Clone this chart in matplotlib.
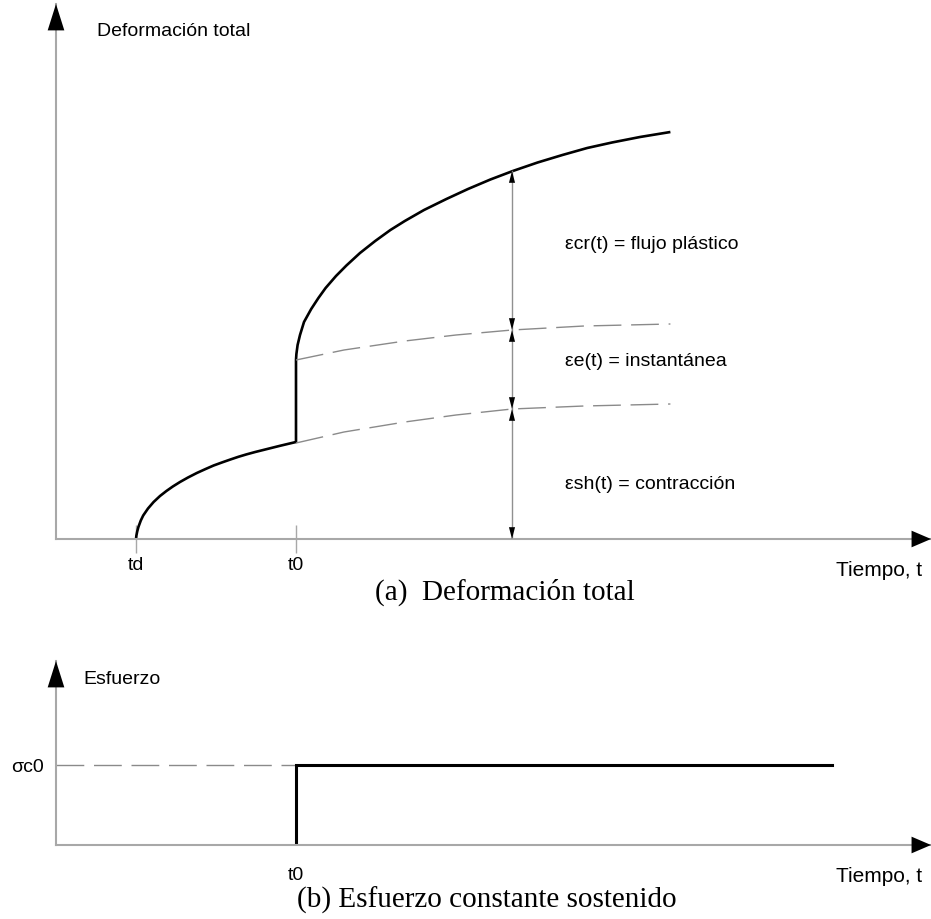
import numpy as np
import matplotlib
matplotlib.use("Agg")
import matplotlib.pyplot as plt

# tiempo en unidades arbitrarias, deformacion / esfuerzo en unidades arbitrarias
t_d = 1.0
t_0 = 3.0
t_dim = 5.7          # posicion de las cotas

# deformacion total antes de la carga (solo contraccion)
t_pre = [1.0, 1.005, 1.015, 1.03, 1.06, 1.09, 1.15, 1.22, 1.30, 1.38, 1.46, 1.55, 1.65,
         1.76, 1.87, 1.97, 2.08, 2.18, 2.28, 2.38, 2.49, 2.59, 2.70, 2.80, 2.90, 3.0]
eps_pre = [0.0, 0.035, 0.075, 0.12, 0.185, 0.235, 0.305, 0.37, 0.43, 0.48, 0.525, 0.57, 0.615,
           0.66, 0.70, 0.735, 0.767, 0.795, 0.822, 0.846, 0.87, 0.89, 0.912, 0.932, 0.951, 0.97]

# deformacion total despues de la carga
t_post = [3.0, 3.0, 3.005, 3.02, 3.05, 3.10, 3.19, 3.28, 3.37, 3.50, 3.63, 3.80, 3.99, 4.18,
          4.36, 4.60, 4.88, 5.15, 5.43, 5.71, 6.02, 6.33, 6.64, 6.95, 7.30, 7.68]
eps_post = [0.97, 1.79, 1.85, 1.94, 2.04, 2.17, 2.30, 2.41, 2.51, 2.63, 2.735, 2.86, 2.98, 3.09,
            3.18, 3.29, 3.40, 3.50, 3.595, 3.68, 3.765, 3.84, 3.91, 3.965, 4.02, 4.07]

# curvas de trazos: contraccion + instantanea, y contraccion
t_el = [3.0, 3.6, 4.36, 5.0, 5.7, 6.6, 7.68]
eps_el = [1.79, 1.89, 1.98, 2.04, 2.09, 2.13, 2.15]
t_sh = [3.0, 3.6, 4.36, 5.0, 5.7, 6.6, 7.68]
eps_sh = [0.96, 1.07, 1.17, 1.24, 1.30, 1.33, 1.35]

dim_levels = [0.0, 1.30, 2.09, 3.68]
dim_labels = ["εcr(t) = flujo plástico", "εe(t) = instantánea", "εsh(t) = contracción"]
dim_label_y = [2.95, 1.78, 0.55]

# esfuerzo
sigma_c0 = 0.8
t_end = 9.7

sans = "Liberation Sans"
serif = "Liberation Serif"
gray = "#a8a8a8"
fs = 14

fig = plt.figure(figsize=(9.31, 9.2), dpi=100)
W, H = 931.0, 920.0


def style_axes(ax):
    for s in ["top", "right"]:
        ax.spines[s].set_visible(False)
    for s in ["left", "bottom"]:
        ax.spines[s].set_color(gray)
        ax.spines[s].set_linewidth(1.5)
    ax.set_yticks([])


def axis_arrows(ax, up_len, right_len):
    # flechas negras en los extremos de los ejes
    ax.annotate("", xy=(0, 1), xycoords="axes fraction",
                xytext=(0, 1 - up_len), textcoords="axes fraction",
                arrowprops=dict(arrowstyle="-|>,head_length=1.9,head_width=0.6",
                                color="black", lw=0, shrinkA=0, shrinkB=0,
                                mutation_scale=10))
    ax.annotate("", xy=(1, 0), xycoords="axes fraction",
                xytext=(1 - right_len, 0), textcoords="axes fraction",
                arrowprops=dict(arrowstyle="-|>,head_length=1.4,head_width=0.6",
                                color="black", lw=0, shrinkA=0, shrinkB=0,
                                mutation_scale=10))


# ---------------- (a) deformacion total ----------------
ax1 = fig.add_axes([56 / W, (H - 540) / H, 875 / W, 535 / H])
ax1.set_xlim(0, 875 / 80)
ax1.set_ylim(0, 5.35)
style_axes(ax1)
ax1.set_xticks([t_d, t_0])
ax1.set_xticklabels(["td", "t0"], fontfamily=sans, fontsize=fs)
ax1.tick_params(axis="x", direction="inout", length=20, width=1, color=gray, pad=2)

ax1.plot(t_pre + t_post, eps_pre + eps_post, color="black", lw=1.9,
         solid_capstyle="butt", solid_joinstyle="round", clip_on=False)
ax1.plot(t_el, eps_el, color="#8a8a8a", lw=1.0, dashes=(20, 7))
ax1.plot(t_sh, eps_sh, color="#8a8a8a", lw=1.0, dashes=(20, 7))

# cotas
ax1.plot([t_dim, t_dim], [dim_levels[0], dim_levels[-1]], color="#909090", lw=1.0)
for lo, hi in zip(dim_levels[:-1], dim_levels[1:]):
    for tip, tail in [(lo, lo + 0.12), (hi, hi - 0.12)]:
        ax1.annotate("", xy=(t_dim, tip), xytext=(t_dim, tail),
                     arrowprops=dict(arrowstyle="-|>,head_length=0.85,head_width=0.22",
                                     color="black", lw=0, shrinkA=0, shrinkB=0,
                                     mutation_scale=10))
for lab, y in zip(dim_labels, dim_label_y):
    ax1.text(6.36, y, lab, fontfamily=sans, fontsize=fs, va="center", ha="left")

ax1.text(41 / 80, 5.08, "Deformación total", fontfamily=sans, fontsize=fs,
         va="center", ha="left")
ax1.text(866 / 875, -0.3, "Tiempo, t", transform=ax1.get_yaxis_transform(),
         fontfamily=sans, fontsize=15, va="center", ha="right")
axis_arrows(ax1, 27 / 535, 19 / 875)

fig.text(505 / W, 1 - 592 / H, "(a)  Deformación total", fontfamily=serif,
         fontsize=21, ha="center", va="center")

# ---------------- (b) esfuerzo ----------------
ax2 = fig.add_axes([56 / W, (H - 846) / H, 875 / W, 184 / H])
ax2.set_xlim(0, 875 / 80)
ax2.set_ylim(0, 1.84)
style_axes(ax2)
ax2.set_xticks([t_0])
ax2.set_xticklabels(["t0"], fontfamily=sans, fontsize=fs)
ax2.tick_params(axis="x", length=0, pad=15)
ax2.set_yticks([sigma_c0])
ax2.set_yticklabels(["σc0"], fontfamily=sans, fontsize=fs)
ax2.tick_params(axis="y", length=0, pad=9)

ax2.plot([0, t_0], [sigma_c0, sigma_c0], color="#8a8a8a", lw=1.0, dashes=(20, 7))
ax2.plot([t_0, t_0, t_end], [0, sigma_c0, sigma_c0], color="black", lw=2.2,
         solid_joinstyle="miter")

ax2.text(27 / 80, 1.66, "Esfuerzo", fontfamily=sans, fontsize=fs,
         va="center", ha="left")
ax2.text(866 / 875, -0.31, "Tiempo, t", transform=ax2.get_yaxis_transform(),
         fontfamily=sans, fontsize=15, va="center", ha="right")
axis_arrows(ax2, 25 / 184, 19 / 875)

fig.text(487 / W, 1 - 900 / H, "(b) Esfuerzo constante sostenido", fontfamily=serif,
         fontsize=21, ha="center", va="center")

fig.savefig("out.png", dpi=100)
